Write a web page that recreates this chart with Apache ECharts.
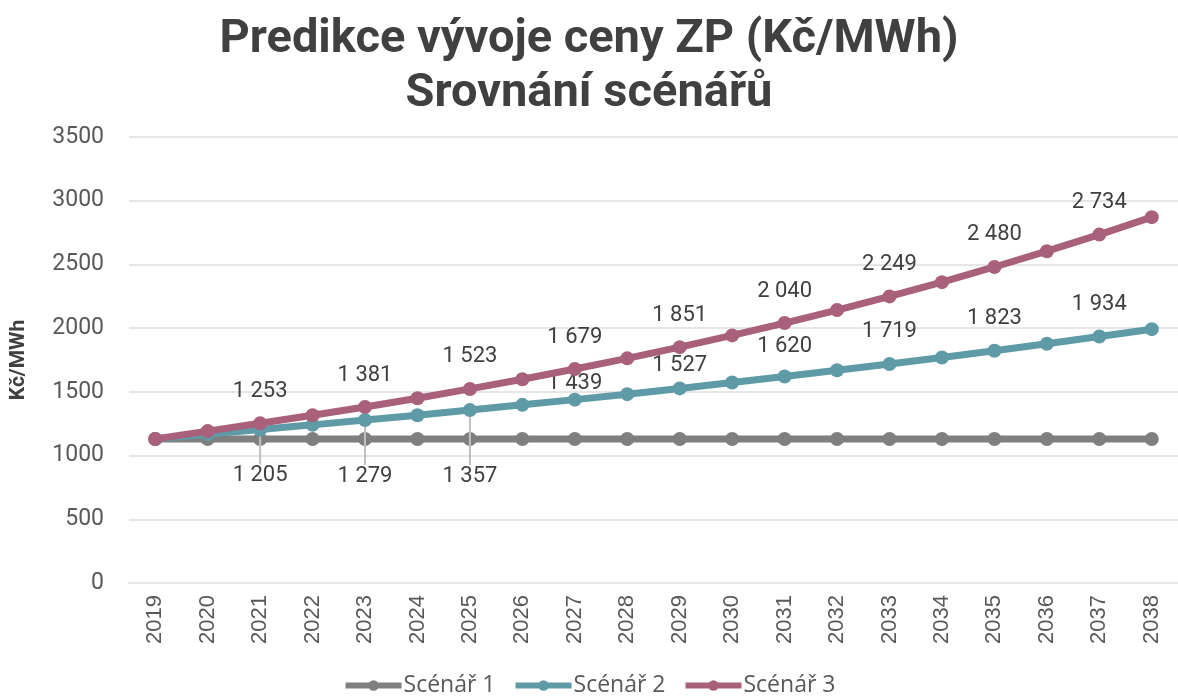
<!DOCTYPE html>
<html>
<head>
<meta charset="utf-8">
<script src="https://cdn.jsdelivr.net/npm/echarts@6/dist/echarts.min.js"></script>
<style>html,body{margin:0;padding:0;background:#fff;}#c{width:1178px;height:699px;}</style>
</head>
<body>
<div id="c"></div>
<script>
const years = ['2019','2020','2021','2022','2023','2024','2025','2026','2027','2028','2029','2030','2031','2032','2033','2034','2035','2036','2037','2038'];
const scenar1 = [1130,1130,1130,1130,1130,1130,1130,1130,1130,1130,1130,1130,1130,1130,1130,1130,1130,1130,1130,1130];
const scenar2 = [1130,1168,1205,1241,1279,1317,1357,1398,1439,1482,1527,1573,1620,1669,1719,1770,1823,1878,1934,1992];
const scenar3 = [1130,1192,1253,1316,1381,1450,1523,1599,1679,1763,1851,1943,2040,2142,2249,2361,2480,2604,2734,2871];
const seriesNames = ['Scénář 1','Scénář 2','Scénář 3'];
const yTicks = [0, 500, 1000, 1500, 2000, 2500, 3000, 3500];
const labelledIdx = [2,4,6,8,10,12,14,16,18];

const fmt = v => String(v).replace(/\B(?=(\d{3})+(?!\d))/g, ' ');
const textColor = '#404040';
const labelStyle = {show: true, position: 'top', distance: 14, fontSize: 22, color: textColor, fontFamily: 'Roboto', formatter: p => fmt(p.value)};

// per-point label tweaks for Scénář 2 (placed below with leader lines or nudged)
const s2LabelTweaks = {2: {position: 'bottom', distance: 28}, 4: {position: 'bottom', distance: 38}, 6: {position: 'bottom', distance: 48}, 8: {distance: -2}, 10: {distance: 5}, 12: {distance: 12}};

function build(values, tweaks, withLabels) {
  return values.map((v, i) => {
    if (withLabels && labelledIdx.indexOf(i) >= 0) {
      const t = (tweaks && tweaks[i]) || {};
      const item = {value: v, label: Object.assign({}, labelStyle, t)};
      if (t.position === 'bottom') {
        item.labelLine = {show: true, lineStyle: {color: '#c0c0c0', width: 2}};
      }
      return item;
    }
    return {value: v};
  });
}

const colors = ['#7f7f7f', '#5f9ba6', '#a8607b'];
const lineCommon = {type: 'line', symbol: 'circle', symbolSize: 14, lineStyle: {width: 7}};
const chart = echarts.init(document.getElementById('c'), null, {renderer: 'canvas'});
chart.setOption({
  animation: false,
  backgroundColor: '#ffffff',
  color: colors,
  title: {
    text: 'Predikce vývoje ceny ZP (Kč/MWh)\nSrovnání scénářů',
    left: 'center',
    top: 8,
    textStyle: {fontSize: 47, lineHeight: 54, color: textColor, fontWeight: 'bold', fontFamily: 'Roboto'}
  },
  legend: {
    bottom: -3,
    left: 'center',
    itemWidth: 56,
    itemHeight: 13,
    itemGap: 17,
    lineStyle: {width: 6},
    textStyle: {fontSize: 23, color: '#595959', fontFamily: 'Open Sans', padding: [0,0,0,-3]},
    data: seriesNames
  },
  grid: {left: 124, right: -15, top: 137, bottom: 116, containLabel: false},
  xAxis: {
    type: 'category',
    data: years,
    boundaryGap: true,
    axisLine: {show: true, lineStyle: {color: '#e6e6e6', width: 2}},
    axisTick: {show: false},
    axisLabel: {rotate: 90, margin: 12, fontSize: 22, color: '#595959', fontFamily: 'Liberation Sans', interval: 0}
  },
  yAxis: {
    type: 'value',
    min: yTicks[0],
    max: yTicks[yTicks.length - 1],
    interval: 500,
    name: 'Kč/MWh',
    nameLocation: 'middle',
    nameRotate: 90,
    nameGap: 100,
    nameTextStyle: {fontSize: 21, fontWeight: 'bold', color: textColor, fontFamily: 'Roboto'},
    axisLine: {show: false},
    axisTick: {show: false},
    splitLine: {lineStyle: {color: '#e6e6e6', width: 2}},
    axisLabel: {margin: 25, fontSize: 23, color: '#595959', fontFamily: 'Roboto', formatter: v => String(v)}
  },
  series: [
    Object.assign({name: seriesNames[0], data: build(scenar1, null, false), z: 2}, lineCommon),
    Object.assign({name: seriesNames[1], data: build(scenar2, s2LabelTweaks, true), z: 3,
      labelLayout: function (p) {
        const t = s2LabelTweaks[p.dataIndex];
        if (t && t.position === 'bottom') {
          const cx = p.rect.x + p.rect.width / 2;
          const cy = p.rect.y + p.rect.height / 2;
          return {labelLinePoints: [[cx, cy], [cx, p.labelRect.y - 10]]};
        }
        return {};
      }}, lineCommon),
    Object.assign({name: seriesNames[2], data: build(scenar3, null, true), z: 4}, lineCommon)
  ]
});
</script>
</body>
</html>
